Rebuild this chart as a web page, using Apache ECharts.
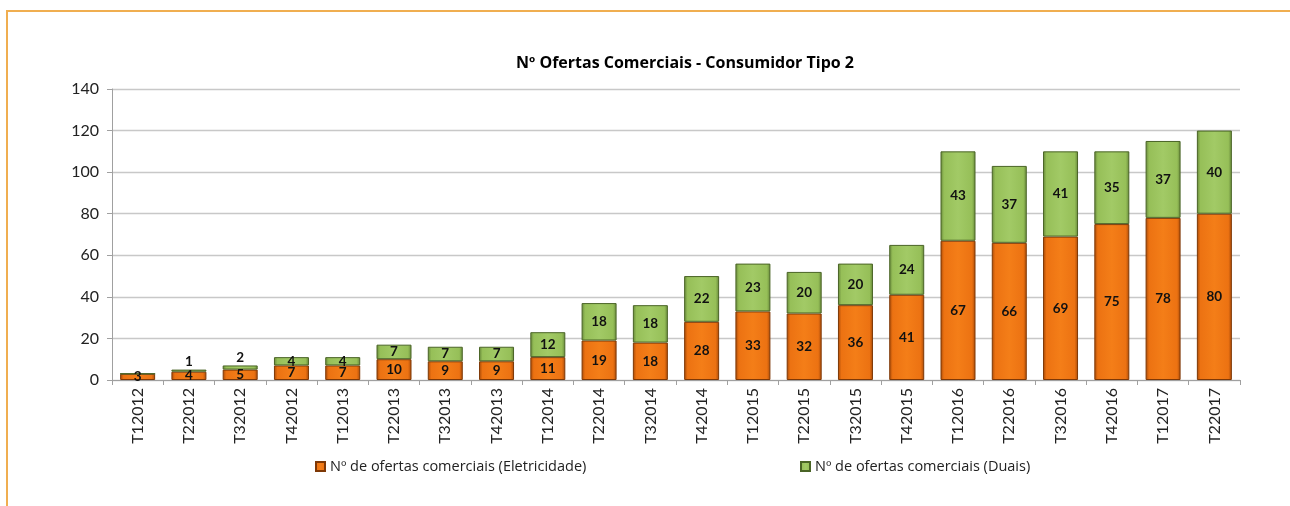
<!DOCTYPE html>
<html><head><meta charset="utf-8">
<script src="https://cdn.jsdelivr.net/npm/echarts@6/dist/echarts.min.js"></script>
<style>
html,body{margin:0;padding:0;background:#fff;}
#frame{position:absolute;left:6px;top:10px;width:1284px;height:496px;border-top:2px solid #F0AE50;border-left:2px solid #F0AE50;box-sizing:border-box;}
#chart{position:absolute;left:0;top:0;width:1290px;height:506px;}
</style></head>
<body>
<div id="frame"></div>
<div id="chart"></div>
<script>
const categories = ["T12012","T22012","T32012","T42012","T12013","T22013","T32013","T42013","T12014","T22014","T32014","T42014","T12015","T22015","T32015","T42015","T12016","T22016","T32016","T42016","T12017","T22017"];
const eletricidade = [3,4,5,7,7,10,9,9,11,19,18,28,33,32,36,41,67,66,69,75,78,80];
const duais = [0,1,2,4,4,7,7,7,12,18,18,22,23,20,20,24,43,37,41,35,37,40];
const seriesNames = ["Nº de ofertas comerciais (Eletricidade)","Nº de ofertas comerciais (Duais)"];
const titleText = "Nº Ofertas Comerciais - Consumidor Tipo 2";

const font = "'Open Sans', 'Noto Sans', sans-serif";
const lato = "Lato, 'Open Sans', sans-serif";
function grad(edge, mid, light){
  return new echarts.graphic.LinearGradient(0,0,1,0,[
    {offset:0,color:edge},{offset:0.1,color:mid},{offset:0.5,color:light},{offset:0.9,color:mid},{offset:1,color:edge}
  ]);
}
const orangeFill = grad('#A84A08','#EC7212','#F47E18');
const greenFill = grad('#66873A','#96BF58','#A2CA66');

const chart = echarts.init(document.getElementById('chart'), null, {renderer:'canvas'});
const legendText = {fontFamily:font,fontSize:14.5,color:'#222'};
chart.setOption({
  animation:false,
  title:{text:titleText,left:680,textAlign:'center',top:50,textStyle:{fontFamily:font,fontSize:16,fontWeight:'bold',color:'#000'}},
  grid:{left:112,right:50,top:89,bottom:126,containLabel:false},
  legend:[
    {left:310,bottom:27,itemWidth:9,itemHeight:9,itemGap:0,icon:'rect',textStyle:legendText,data:[seriesNames[0]]},
    {left:795,bottom:27,itemWidth:9,itemHeight:9,itemGap:0,icon:'rect',textStyle:legendText,data:[seriesNames[1]]}
  ],
  xAxis:{
    type:'category',data:categories,
    axisLine:{lineStyle:{color:'#A0A0A0'}},
    axisTick:{show:true,alignWithLabel:false,length:5,lineStyle:{color:'#A0A0A0'}},
    axisLabel:{rotate:90,fontFamily:lato,fontSize:16,color:'#222',margin:8,interval:0}
  },
  yAxis:{
    type:'value',min:0,max:140,interval:20,
    axisLine:{show:true,lineStyle:{color:'#A0A0A0'}},
    axisTick:{show:true,length:5,lineStyle:{color:'#A0A0A0'}},
    axisLabel:{fontFamily:lato,fontSize:16,color:'#222',margin:13},
    splitLine:{lineStyle:{color:'#C8C8C8',width:1.3}}
  },
  series:[
    {
      name:seriesNames[0],type:'bar',stack:'t',barWidth:35,
      data:eletricidade,
      itemStyle:{color:orangeFill,borderColor:'#7E3806',borderWidth:1},
      label:{show:true,position:'inside',fontFamily:lato,fontSize:13.5,fontWeight:'bold',color:'#111'}
    },
    {
      name:seriesNames[1],type:'bar',stack:'t',barWidth:35,
      data:duais.map(v=>({value:v,label:{show:v>0,position:v<=2?'top':'inside',distance:1}})),
      itemStyle:{color:greenFill,borderColor:'#4A6426',borderWidth:1},
      label:{show:true,fontFamily:lato,fontSize:13.5,fontWeight:'bold',color:'#111'}
    }
  ]
});
</script>
</body></html>
